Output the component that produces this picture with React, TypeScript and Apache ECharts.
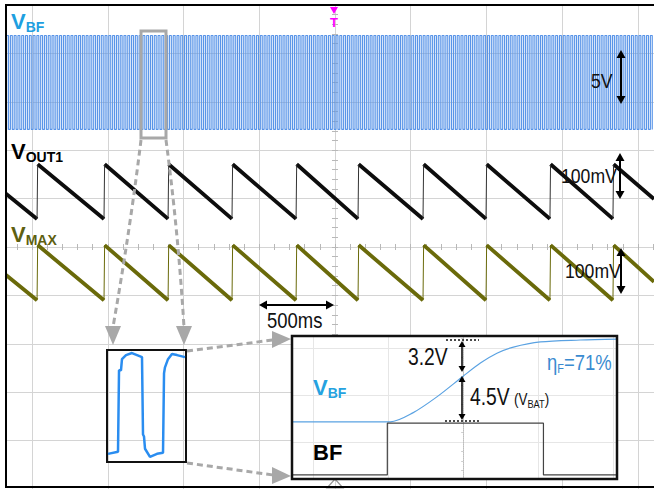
import React, { useEffect, useRef } from "react";
import * as echarts from "echarts";

// ---------- main screen: time in ms (500 ms/div), amplitude in divisions ----------
const X_MIN_MS = -2172;
const X_MAX_MS = 2106;
const Y_MIN_DIV = -5;
const Y_MAX_DIV = 5;

// VBF switching waveform (top trace)
const VBF_START_MS = -2168;
const VBF_PERIOD_MS = 25;
const VBF_DUTY = 0.5;
const VBF_LEVELS_DIV = [2.43, 4.37]; // low, high

// rising edges of VOUT1 / VMAX sawtooth waveforms
const RISE_TIMES_MS = [-1967, -1525, -1102, -680, -257, 152, 581, 997, 1419, 1835];
const VOUT1_LEVELS_DIV = [0.58, 1.71]; // bottom, top
const VOUT1_EDGE_DIV = [1.1, 0.99]; // value at left / right screen edge
const VMAX_LEVELS_DIV = [-1.1, 0.04];
const VMAX_EDGE_DIV = [-0.58, -0.72];

// small zoom inset: VBF detail (ms, V)
const ZOOM_T_MS = [2.1, 23.0, 25.1, 29.2, 31.3, 39.7, 52.2, 62.7, 73.1, 75.2, 77.3, 79.4, 89.8, 104.4, 117.0, 119.1, 121.1, 127.4, 135.7, 146.2, 162.9];
const ZOOM_V = [0.8, 1.0, 9.0, 9.0, 10.1, 10.5, 10.7, 10.5, 10.3, 2.7, 2.5, 1.3, 0.5, 0.8, 0.9, 8.7, 9.3, 10.1, 10.6, 10.5, 10.3];

// detail inset (divisions)
const DETAIL_VBF_T = [-2.28, -0.97, -0.67, -0.35, 0, 0.23, 0.45, 0.67, 1.03, 1.56, 2.05];
const DETAIL_VBF_V = [0.43, 0.43, 0.62, 0.96, 1.4, 1.68, 1.89, 2.02, 2.13, 2.17, 2.19];
const DETAIL_BF_T = [-2.28, -1.01, -1.01, 1.07, 1.07, 2.05];
const DETAIL_BF_V = [-0.7, -0.7, 0.4, 0.4, -0.7, -0.7];

const SANS = "'Liberation Sans', Arial, sans-serif";
const NARROW_SCALE = 0.84;

function buildSquare(): (number | null)[][] {
  const out: (number | null)[][] = [];
  const [lo, hi] = VBF_LEVELS_DIV;
  for (let t = VBF_START_MS; t < X_MAX_MS; t += VBF_PERIOD_MS) {
    const f = t + VBF_PERIOD_MS * VBF_DUTY;
    out.push([t, lo], [t, hi], [f, hi], [f, lo]);
  }
  return out;
}

function buildSaw(levels: number[], edges: number[]) {
  const [lo, hi] = levels;
  const decay: (number | null)[][] = [];
  const rise: (number | null)[][] = [];
  decay.push([X_MIN_MS, edges[0]], [RISE_TIMES_MS[0], lo], [RISE_TIMES_MS[0], null]);
  RISE_TIMES_MS.forEach((r, i) => {
    rise.push([r, lo], [r + 4, hi], [r, null]);
    const next = RISE_TIMES_MS[i + 1];
    if (next !== undefined) decay.push([r + 4, hi], [next, lo], [next, null]);
    else decay.push([r + 4, hi], [X_MAX_MS, edges[1]]);
  });
  return { decay, rise };
}

function vArrow(x: number, y1: number, y2: number, lw = 2, hw = 4.5, hh = 8, color = "#000") {
  return [
    { type: "line", z: 20, shape: { x1: x, y1: y1 + hh - 1, x2: x, y2: y2 - hh + 1 }, style: { stroke: color, lineWidth: lw } },
    { type: "polygon", z: 20, shape: { points: [[x, y1], [x - hw, y1 + hh], [x + hw, y1 + hh]] }, style: { fill: color } },
    { type: "polygon", z: 20, shape: { points: [[x, y2], [x - hw, y2 - hh], [x + hw, y2 - hh]] }, style: { fill: color } },
  ];
}

function hArrow(y: number, x1: number, x2: number, lw = 2, hw = 4.5, hh = 8, color = "#000") {
  return [
    { type: "line", z: 20, shape: { x1: x1 + hh - 1, y1: y, x2: x2 - hh + 1, y2: y }, style: { stroke: color, lineWidth: lw } },
    { type: "polygon", z: 20, shape: { points: [[x1, y], [x1 + hh, y - hw], [x1 + hh, y + hw]] }, style: { fill: color } },
    { type: "polygon", z: 20, shape: { points: [[x2, y], [x2 - hh, y - hw], [x2 - hh, y + hw]] }, style: { fill: color } },
  ];
}

// condensed (Arial-Narrow-like) label
function label(x: number, y: number, text: string, fontSize: number, color: string) {
  return {
    type: "text",
    z: 20,
    x,
    y,
    scaleX: NARROW_SCALE,
    style: { text, fill: color, fontSize, fontFamily: SANS, fontWeight: "normal", textVerticalAlign: "middle" },
  };
}

function subLabel(x: number, y: number, main: string, sub: string, color: string, big = 22, small = 14, weight = "bold", tail = "", narrow = false) {
  return {
    type: "text",
    z: 20,
    x,
    y,
    scaleX: narrow ? NARROW_SCALE : 1,
    style: {
      text: `{a|${main}}{b|${sub}}` + (tail ? `{a|${tail}}` : ""),
      fill: color,
      textVerticalAlign: "middle",
      rich: {
        a: { fontSize: big, fontFamily: SANS, fontWeight: weight, fill: color, color, lineHeight: big + 4 },
        b: { fontSize: small, fontFamily: SANS, fontWeight: weight, fill: color, color, lineHeight: small + 4, verticalAlign: "bottom" },
      },
    },
  };
}

export default function App() {
  const ref = useRef<HTMLDivElement>(null);

  useEffect(() => {
    document.body.style.margin = "0";
    if (!ref.current) return;
    const chart = echarts.init(ref.current, null, { renderer: "svg" });

    const vout1 = buildSaw(VOUT1_LEVELS_DIV, VOUT1_EDGE_DIV);
    const vmax = buildSaw(VMAX_LEVELS_DIV, VMAX_EDGE_DIV);
    const gridGray = "#d4d4d4";
    const tickGray = "#b8b8b8";
    const dash = "#a8a8a8";

    const mainX = (pos: "bottom" | "top", split: boolean) => ({
      gridIndex: 0,
      type: "value",
      position: pos,
      min: X_MIN_MS,
      max: X_MAX_MS,
      splitNumber: 9,
      axisLabel: { show: false },
      axisLine: { show: true, onZero: true, lineStyle: { color: gridGray, width: 1 } },
      axisTick: { show: true, length: 3, lineStyle: { color: tickGray } },
      minorTick: { show: true, splitNumber: 5, length: 3, lineStyle: { color: tickGray } },
      splitLine: { show: split, showMinLine: false, showMaxLine: false, lineStyle: { color: gridGray, width: 1 } },
      z: 0,
    });
    const mainY = (pos: "left" | "right", split: boolean) => ({
      gridIndex: 0,
      type: "value",
      position: pos,
      min: Y_MIN_DIV,
      max: Y_MAX_DIV,
      interval: 1,
      axisLabel: { show: false },
      axisLine: { show: true, onZero: true, lineStyle: { color: gridGray, width: 1 } },
      axisTick: { show: true, length: 3, lineStyle: { color: tickGray } },
      minorTick: { show: true, splitNumber: 5, length: 3, lineStyle: { color: tickGray } },
      splitLine: { show: split, showMinLine: false, showMaxLine: false, lineStyle: { color: gridGray, width: 1 } },
      z: 0,
    });

    const option: any = {
      animation: false,
      backgroundColor: "#fff",
      grid: [
        { left: 6, top: 5, width: 648, height: 484, show: false },
        { left: 292, top: 337, width: 325, height: 142, show: true, backgroundColor: "#fff", borderWidth: 0, z: 5 },
        { left: 107, top: 350, width: 79, height: 112, show: true, backgroundColor: "rgba(0,0,0,0)", borderColor: "#111", borderWidth: 2, z: 5 },
      ],
      xAxis: [
        mainX("bottom", true),
        mainX("top", false),
        {
          gridIndex: 1, type: "value", min: -2.28, max: 2.05, splitNumber: 4,
          axisLabel: { show: false }, axisTick: { show: false }, axisLine: { show: false },
          splitLine: { show: true, showMinLine: false, showMaxLine: false, lineStyle: { color: "#e6e6e6" } }, z: 6,
        },
        {
          gridIndex: 2, type: "value", min: 0, max: 165,
          axisLabel: { show: false }, axisTick: { show: false }, axisLine: { show: false }, splitLine: { show: false }, z: 6,
        },
      ],
      yAxis: [
        mainY("left", true),
        mainY("right", false),
        {
          gridIndex: 1, type: "value", min: -0.787, max: 2.234, splitNumber: 3,
          axisLabel: { show: false },
          axisLine: { show: true, onZero: true, lineStyle: { color: "#bdbdbd", type: "dotted" } },
          axisTick: { show: false },
          minorTick: { show: true, splitNumber: 5, length: 2, lineStyle: { color: "#cfcfcf" } },
          splitLine: { show: true, showMinLine: false, showMaxLine: false, lineStyle: { color: "#e6e6e6" } }, z: 6,
        },
        {
          gridIndex: 2, type: "value", min: 0, max: 11,
          axisLabel: { show: false }, axisTick: { show: false }, axisLine: { show: false }, splitLine: { show: false }, z: 6,
        },
      ],
      series: [
        {
          name: "VBF", type: "line", xAxisIndex: 0, yAxisIndex: 0, data: buildSquare(), showSymbol: false, symbol: "none",
          lineStyle: { color: "#5894e8", width: 1.15 }, z: 2, silent: true,
        },
        {
          name: "VOUT1", type: "line", xAxisIndex: 0, yAxisIndex: 0, data: vout1.decay, showSymbol: false, symbol: "none",
          lineStyle: { color: "#0d0d0d", width: 3.8 }, z: 3, silent: true,
        },
        {
          name: "VOUT1 edge", type: "line", xAxisIndex: 0, yAxisIndex: 0, data: vout1.rise, showSymbol: false, symbol: "none",
          lineStyle: { color: "#333", width: 1 }, z: 3, silent: true,
        },
        {
          name: "VMAX", type: "line", xAxisIndex: 0, yAxisIndex: 0, data: vmax.decay, showSymbol: false, symbol: "none",
          lineStyle: { color: "#6a6a0a", width: 3.8 }, z: 3, silent: true,
        },
        {
          name: "VMAX edge", type: "line", xAxisIndex: 0, yAxisIndex: 0, data: vmax.rise, showSymbol: false, symbol: "none",
          lineStyle: { color: "#6a6a0a", width: 1 }, z: 3, silent: true,
        },
        {
          name: "VBF detail", type: "line", xAxisIndex: 2, yAxisIndex: 2, data: DETAIL_VBF_T.map((t, i) => [t, DETAIL_VBF_V[i]]),
          showSymbol: false, symbol: "none", smooth: 0.3, lineStyle: { color: "#5aa2e2", width: 1.2 }, z: 7, silent: true,
        },
        {
          name: "BF", type: "line", xAxisIndex: 2, yAxisIndex: 2, data: DETAIL_BF_T.map((t, i) => [t, DETAIL_BF_V[i]]),
          showSymbol: false, symbol: "none", lineStyle: { color: "#444", width: 1.2 }, z: 7, silent: true,
        },
        {
          name: "VBF zoom", type: "line", xAxisIndex: 3, yAxisIndex: 3, data: ZOOM_T_MS.map((t, i) => [t, ZOOM_V[i]]),
          showSymbol: false, symbol: "none", lineStyle: { color: "#2a8df0", width: 2.5 }, z: 7, silent: true,
        },
      ],
      graphic: {
        elements: [
          // outer frame
          { type: "rect", z: 30, shape: { x: 6, y: 5, width: 700, height: 482 }, style: { fill: "none", stroke: "#000", lineWidth: 2 } },
          // detail inset frame
          { type: "rect", z: 30, shape: { x: 292, y: 336, width: 325, height: 143 }, style: { fill: "none", stroke: "#111", lineWidth: 2.5 } },
          // trigger marker
          { type: "polygon", z: 20, shape: { points: [[330, 7], [338, 7], [334, 14]] }, style: { fill: "#ff00ff" } },
          { type: "text", z: 20, x: 334, y: 22, style: { text: "T", fill: "#ff00ff", fontSize: 13, fontWeight: "bold", fontFamily: SANS, textAlign: "center", textVerticalAlign: "middle" } },
          // ground marker at bottom
          { type: "polygon", z: 20, shape: { points: [[327, 488], [343, 488], [335, 479]] }, style: { fill: "none", stroke: "#9a9a9a", lineWidth: 1.2 } },
          // zoom selection box
          { type: "rect", z: 20, shape: { x: 141, y: 31, width: 25, height: 107 }, style: { fill: "none", stroke: dash, lineWidth: 3 } },
          // dashed connectors
          { type: "bezierCurve", z: 20, shape: { x1: 141, y1: 140, x2: 113, y2: 327, cpx1: 130, cpy1: 230 }, style: { fill: "none", stroke: dash, lineWidth: 3, lineDash: [6, 4] } },
          { type: "bezierCurve", z: 20, shape: { x1: 166, y1: 140, x2: 184, y2: 327, cpx1: 178, cpy1: 230 }, style: { fill: "none", stroke: dash, lineWidth: 3, lineDash: [6, 4] } },
          { type: "polygon", z: 20, shape: { points: [[105, 326], [121, 326], [113, 345]] }, style: { fill: dash } },
          { type: "polygon", z: 20, shape: { points: [[176, 326], [192, 326], [184, 345]] }, style: { fill: dash } },
          { type: "line", z: 20, shape: { x1: 187, y1: 351, x2: 273, y2: 340 }, style: { stroke: dash, lineWidth: 3, lineDash: [6, 4] } },
          { type: "polygon", z: 20, shape: { points: [[272, 331], [272, 348], [291, 339]] }, style: { fill: dash } },
          { type: "line", z: 20, shape: { x1: 187, y1: 463, x2: 273, y2: 475 }, style: { stroke: dash, lineWidth: 3, lineDash: [6, 4] } },
          { type: "polygon", z: 20, shape: { points: [[272, 467], [272, 484], [291, 476]] }, style: { fill: dash } },
          // channel labels
          subLabel(11, 21, "V", "BF", "#1e9fe0"),
          subLabel(11, 151, "V", "OUT1", "#000"),
          subLabel(11, 234, "V", "MAX", "#5e6010"),
          // scale annotations
          label(591, 80, "5V", 21, "#111"),
          ...vArrow(621, 50, 104),
          label(561, 175, "100mV", 21, "#111"),
          ...vArrow(620, 153, 199),
          label(565, 270, "100mV", 21, "#111"),
          ...vArrow(621, 248, 294),
          label(267, 320, "500ms", 22, "#111"),
          ...hArrow(305, 259, 334),
          // detail inset annotations
          { type: "line", z: 20, shape: { x1: 446, y1: 340, x2: 479, y2: 340 }, style: { stroke: "#111", lineWidth: 1.5, lineDash: [2, 2] } },
          { type: "line", z: 20, shape: { x1: 445, y1: 421, x2: 480, y2: 421 }, style: { stroke: "#111", lineWidth: 1.5, lineDash: [2, 2] } },
          ...vArrow(462, 341, 372, 1.5, 3.5, 6),
          ...vArrow(462, 376, 420, 1.5, 3.5, 6),
          label(408, 357, "3.2V", 23, "#111"),
          label(470, 397, "4.5V", 23, "#111"),
          subLabel(514, 400, "(V", "BAT", "#111", 16, 11, "normal", ")", true),
          subLabel(547, 362, "η", "F", "#3a8bd0", 22, 13, "normal", "=71%", true),
          subLabel(313, 387, "V", "BF", "#25a2e0"),
          { type: "text", z: 20, x: 313, y: 452, style: { text: "BF", fill: "#000", fontSize: 22, fontFamily: SANS, fontWeight: "bold", textVerticalAlign: "middle" } },
        ],
      },
    };

    chart.setOption(option);
    return () => chart.dispose();
  }, []);

  return <div ref={ref} style={{ width: 654, height: 489 }} />;
}
